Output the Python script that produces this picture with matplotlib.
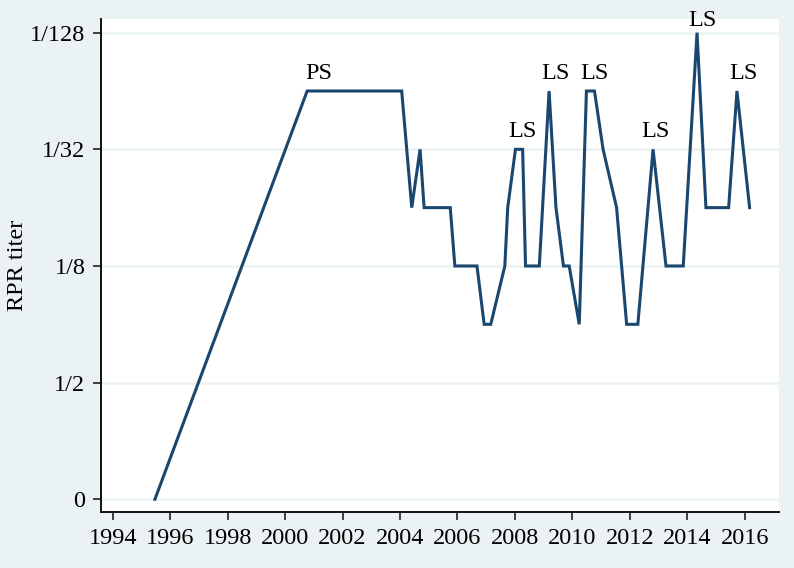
import numpy as np
import matplotlib
matplotlib.use("Agg")
import matplotlib.pyplot as plt

# ---- data ----
years = [1995.47, 2000.77, 2004.06, 2004.41, 2004.70, 2004.84, 2005.75, 2005.91,
         2006.68, 2006.93, 2007.16, 2007.65, 2007.75, 2008.02, 2008.27, 2008.37,
         2008.85, 2009.19, 2009.43, 2009.69, 2009.89, 2010.24, 2010.49, 2010.77,
         2011.07, 2011.54, 2011.89, 2012.28, 2012.81, 2013.26, 2013.86, 2014.34,
         2014.65, 2015.44, 2015.73, 2016.17]
# RPR titer as 1:N dilution (0 = non-reactive)
dilution = [0, 64, 64, 16, 32, 16, 16, 8,
            8, 4, 4, 8, 16, 32, 32, 8,
            8, 64, 16, 8, 8, 4, 64, 64,
            32, 16, 4, 4, 32, 8, 8, 128,
            16, 16, 64, 16]

label_text = ["PS", "LS", "LS", "LS", "LS", "LS", "LS"]
label_years = [2001.18, 2008.28, 2009.41, 2010.78, 2012.89, 2014.53, 2015.95]
label_dilution = [64, 32, 64, 64, 32, 128, 64]

ytick_dilution = [0, 2, 8, 32, 128]
ytick_labels = ["0", "1/2", "1/8", "1/32", "1/128"]
xticks = list(range(1994, 2017, 2))


def level(d):
    d = np.asarray(d, dtype=float)
    out = np.zeros_like(d)
    pos = d > 0
    out[pos] = np.log2(d[pos]) + 1
    return out


plt.rcParams['font.family'] = ['Liberation Serif', 'DejaVu Serif']
FS = 17.5
BG = '#EAF2F3'
LINE = '#1a476f'

fig = plt.figure(figsize=(7.94, 5.68), dpi=100, facecolor=BG)
ax = fig.add_axes([0.1268, 0.0981, 0.8547, 0.8684])
ax.set_facecolor('white')

ax.plot(years, level(dilution), color=LINE, lw=2.2, solid_joinstyle='miter', zorder=3)

offsets = [5, 5, 5, 5, 5, 1, 5]
for t, x, d, off in zip(label_text, label_years, label_dilution, offsets):
    ax.annotate(t, (x, level([d])[0]), xytext=(0, off), textcoords='offset points',
                ha='center', va='bottom', fontsize=FS, color='black',
                annotation_clip=False, zorder=4)

ax.set_xlim(1993.582, 2017.204)
ax.set_ylim(-0.223, 8.234)
ax.set_xticks(xticks)
ax.set_yticks(level(ytick_dilution))
ax.set_yticklabels(ytick_labels)
ax.set_ylabel("RPR titer", fontsize=FS)
ax.yaxis.set_label_coords(-0.107, 0.5)

ax.grid(axis='y', color=BG, lw=1.8, zorder=0)
ax.grid(axis='x', visible=False)
for s in ['top', 'right']:
    ax.spines[s].set_visible(False)
for s in ['left', 'bottom']:
    ax.spines[s].set_linewidth(1.4)
    ax.spines[s].set_color('#111111')
ax.tick_params(axis='both', labelsize=FS, length=6, width=1.1, color='#111111', pad=5)

fig.savefig('out.png', dpi=100, facecolor=BG)
